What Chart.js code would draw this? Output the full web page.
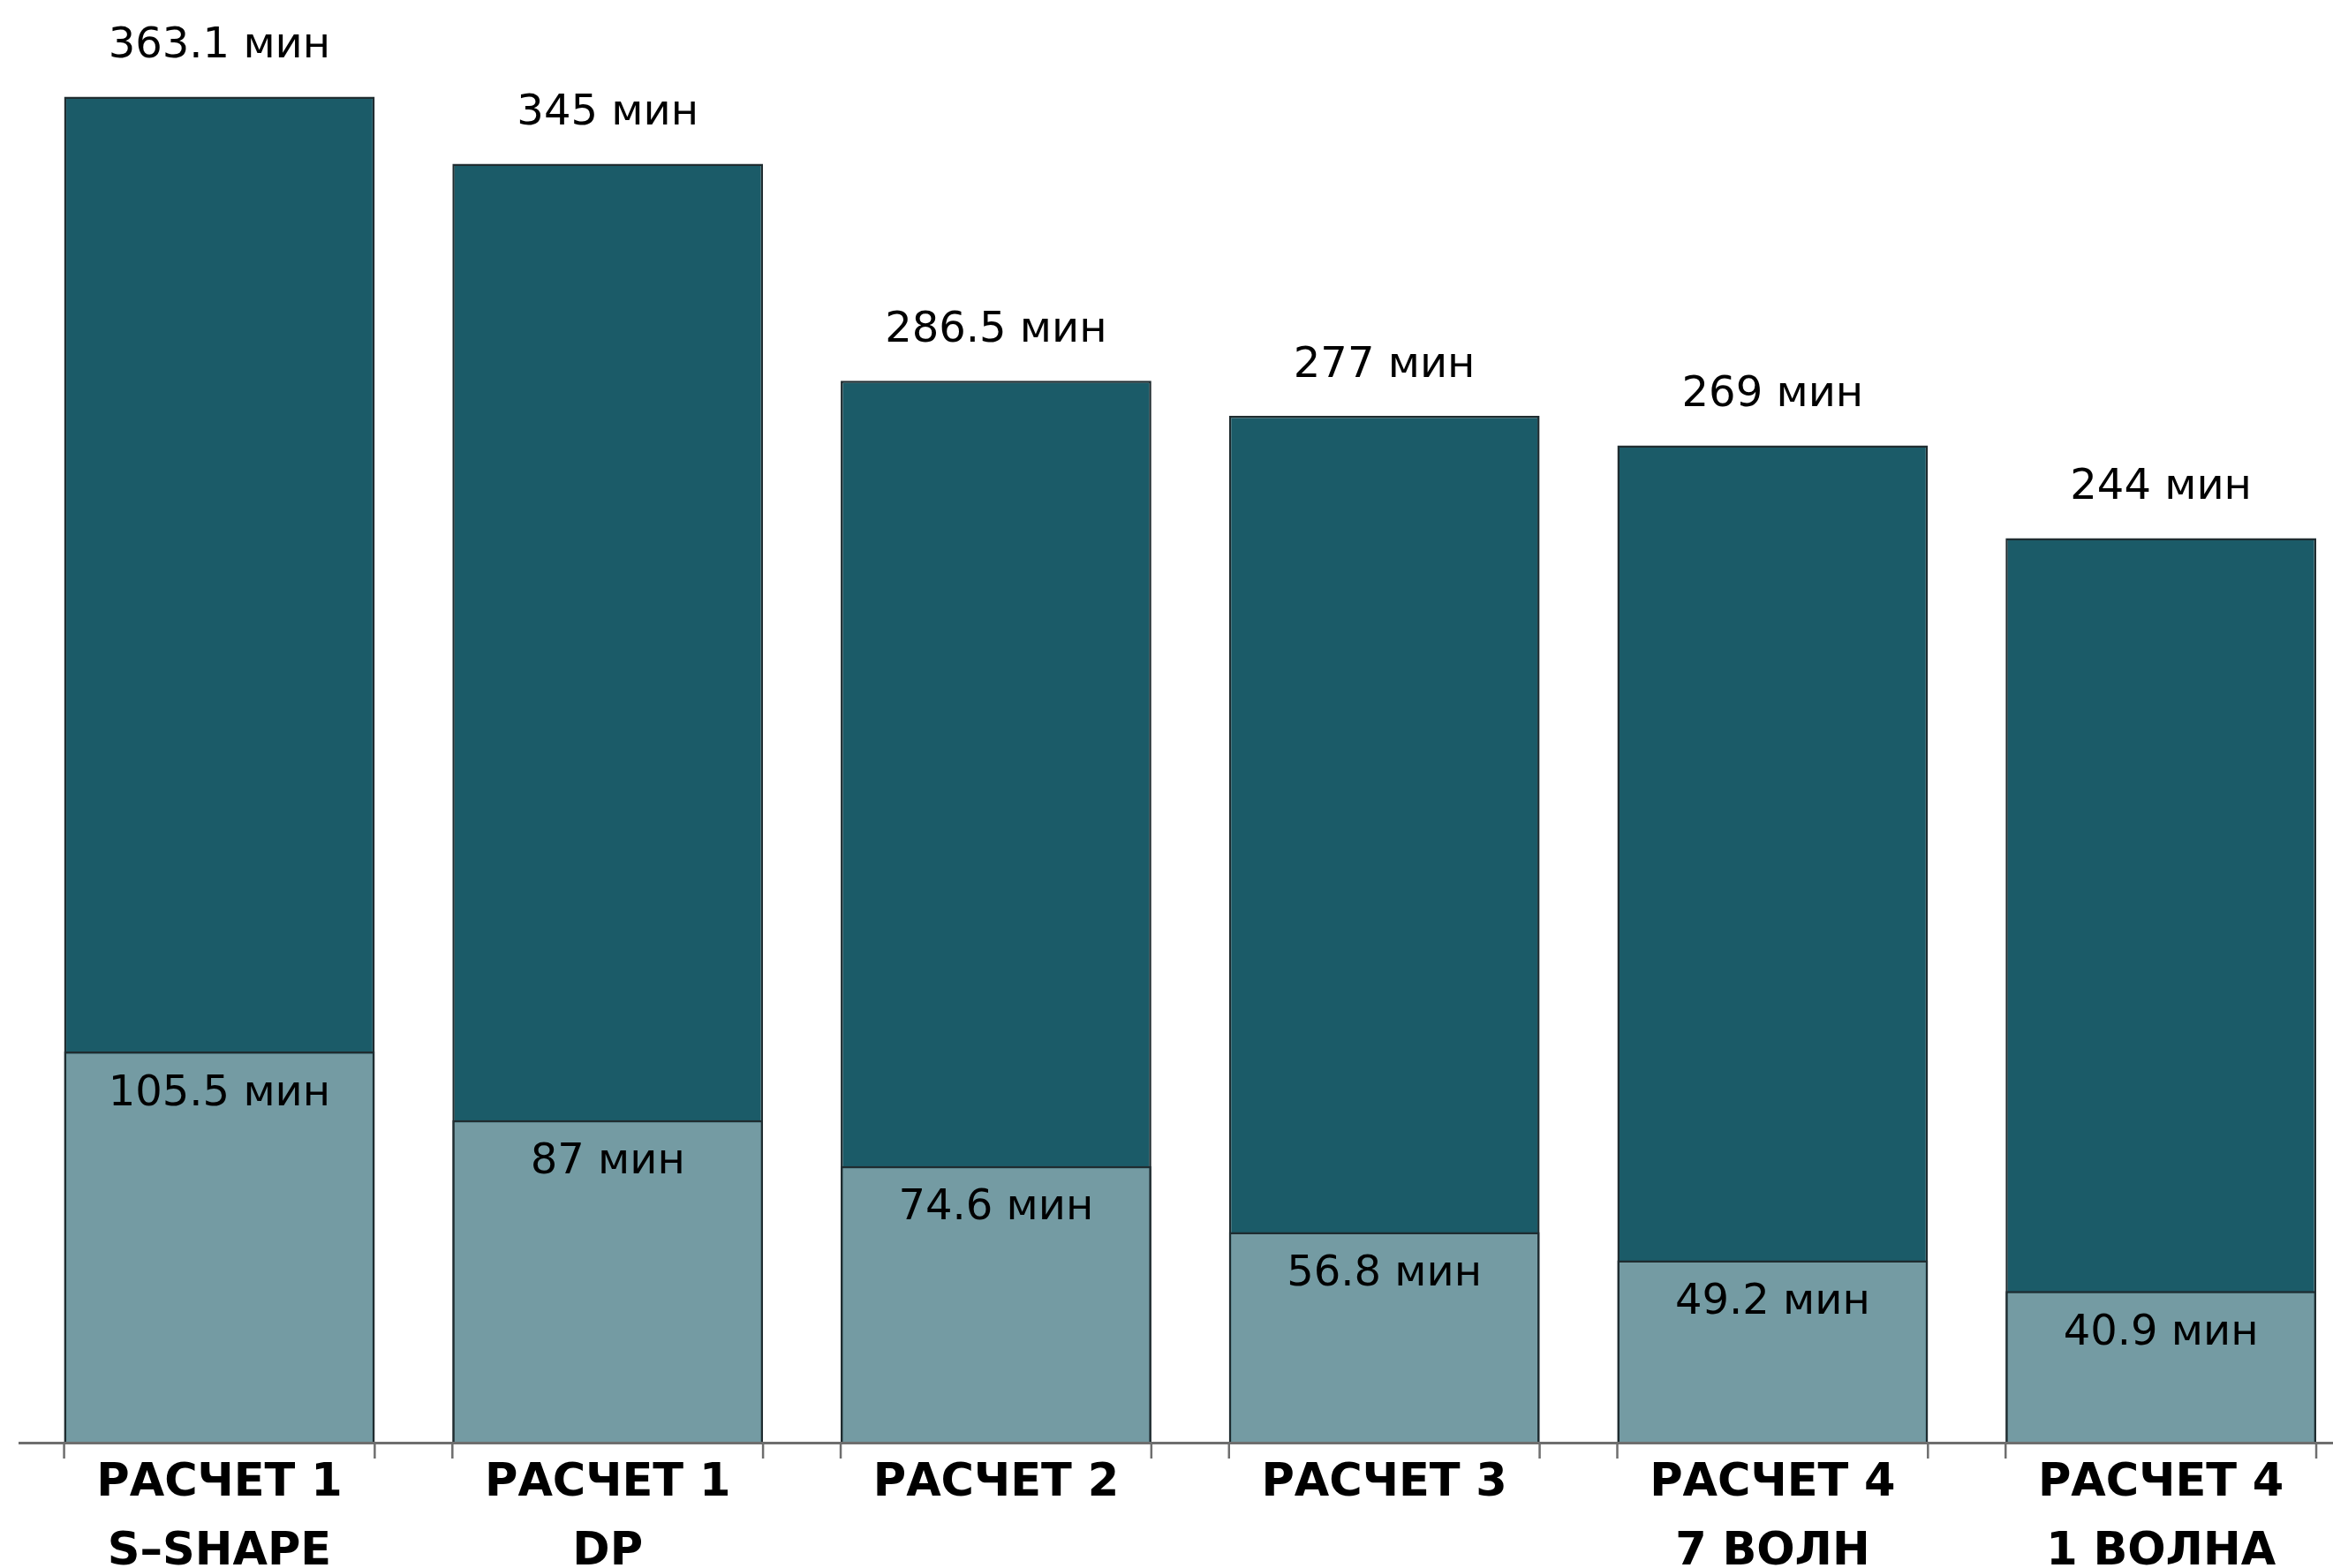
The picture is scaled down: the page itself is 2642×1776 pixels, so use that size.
<!DOCTYPE html>
<html>
<head>
<meta charset="utf-8">
<script src="https://cdn.jsdelivr.net/npm/chart.js@4/dist/chart.umd.min.js"></script>
<style>
  html, body { margin: 0; padding: 0; background: #ffffff; overflow: hidden; }
  #wrap { width: 2667px; height: 1776px; }
</style>
</head>
<body>
<div id="wrap"><canvas id="c" width="2667" height="1776"></canvas></div>
<script>
const categories = [
  ["РАСЧЕТ 1", "S–SHAPE"],
  ["РАСЧЕТ 1", "DP"],
  ["РАСЧЕТ 2"],
  ["РАСЧЕТ 3"],
  ["РАСЧЕТ 4", "7 ВОЛН"],
  ["РАСЧЕТ 4", "1 ВОЛНА"]
];
const totalMinutes = [363.1, 345, 286.5, 277, 269, 244];
const partMinutes = [105.5, 87, 74.6, 56.8, 49.2, 40.9];
const unit = "мин";

const FONT = "'DejaVu Sans', Verdana, sans-serif";

const overlayPlugin = {
  id: 'overlay',
  afterDatasetsDraw(chart) {
    const ctx = chart.ctx;
    const area = chart.chartArea;
    ctx.save();
    // axis line
    ctx.strokeStyle = '#6e6e6e';
    ctx.lineWidth = 3;
    ctx.beginPath();
    ctx.moveTo(21, area.bottom + 0.5);
    ctx.lineTo(chart.width, area.bottom + 0.5);
    ctx.stroke();
    // tick marks at bar edges
    const darkMeta = chart.getDatasetMeta(1);
    ctx.lineWidth = 2.5;
    darkMeta.data.forEach(bar => {
      const half = bar.width / 2;
      [bar.x - half, bar.x + half].forEach(xx => {
        ctx.beginPath();
        ctx.moveTo(xx, area.bottom);
        ctx.lineTo(xx, area.bottom + 18);
        ctx.stroke();
      });
    });
    // value labels
    ctx.fillStyle = '#000000';
    ctx.font = "48px " + FONT;
    ctx.textAlign = 'center';
    ctx.textBaseline = 'middle';
    darkMeta.data.forEach((bar, i) => {
      ctx.fillText(totalMinutes[i] + " " + unit, bar.x, bar.y - 57);
    });
    const lightMeta = chart.getDatasetMeta(0);
    lightMeta.data.forEach((bar, i) => {
      ctx.fillText(partMinutes[i] + " " + unit, bar.x, bar.y + 48);
    });
    ctx.restore();
  }
};

new Chart(document.getElementById('c'), {
  type: 'bar',
  data: {
    labels: categories,
    datasets: [
      {
        label: 'part',
        data: partMinutes,
        backgroundColor: '#749BA3',
        borderColor: '#1f2c30',
        borderWidth: 2.5,
        grouped: false,
        barPercentage: 0.8,
        categoryPercentage: 1.0
      },
      {
        label: 'total',
        data: totalMinutes,
        backgroundColor: '#1B5B68',
        borderColor: '#1f2c30',
        borderWidth: 2.5,
        grouped: false,
        barPercentage: 0.8,
        categoryPercentage: 1.0
      }
    ]
  },
  options: {
    responsive: false,
    animation: false,
    layout: { padding: { left: 28.6, right: 0, top: 38.6, bottom: 0 } },
    plugins: {
      legend: { display: false },
      tooltip: { enabled: false }
    },
    scales: {
      x: {
        grid: { display: false, drawTicks: false },
        border: { display: false },
        ticks: {
          color: '#000000',
          padding: 8,
          maxRotation: 0,
          autoSkip: false,
          font: { family: FONT, size: 51, weight: 'bold', lineHeight: 1.52 }
        },
        afterFit(scale) { scale.height = 142; }
      },
      y: {
        display: false,
        min: 0,
        max: 380
      }
    }
  },
  plugins: [overlayPlugin]
});
</script>
</body>
</html>
